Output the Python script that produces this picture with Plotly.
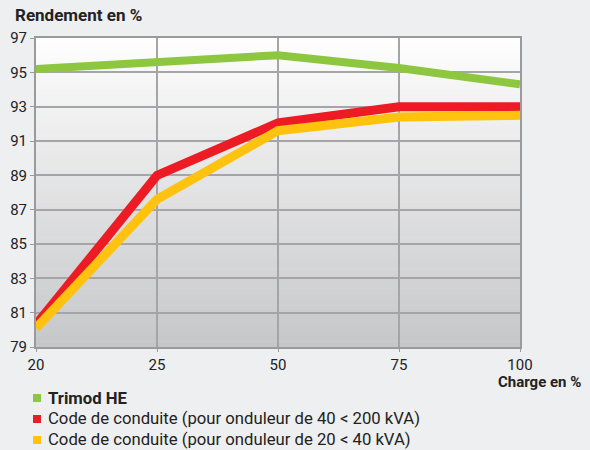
import plotly.graph_objects as go

charges = ["20", "25", "50", "75", "100"]
trimod = [95.2, 95.6, 96.0, 95.25, 94.3]
code_40_200 = [80.3, 89.0, 92.05, 93.0, 93.0]
code_20_40 = [80.1, 87.6, 91.6, 92.4, 92.5]
y_ticks = [79, 81, 83, 85, 87, 89, 91, 93, 95, 97]

names = ["<b>Trimod HE</b>",
         "Code de conduite (pour onduleur de 40 < 200 kVA)",
         "Code de conduite (pour onduleur de 20 < 40 kVA)"]
colors = ["#8dc63f", "#ed1c24", "#ffc20e"]
widths = [8, 9, 9]
series = [trimod, code_40_200, code_20_40]

FONT = "Roboto, 'DejaVu Sans', sans-serif"
W, H = 590, 450
L, R, T, B = 36, 70, 38, 103
PW, PH = W - L - R, H - T - B


def px_x(x):
    return (x - L) / PW


def px_y(y):
    return (H - B - y) / PH


fig = go.Figure()
for s, c, w in zip(series, colors, widths):
    fig.add_trace(go.Scatter(x=charges, y=s, mode="lines",
                             line=dict(color=c, width=w),
                             showlegend=False, hoverinfo="skip"))

# vertical gradient background for the plot area
shapes = []
N = 60
top = (0xFE, 0xFE, 0xFE)
bot = (0xC6, 0xC7, 0xC9)
for i in range(N):
    t = (i + 0.5) / N
    col = tuple(round(top[k] + (bot[k] - top[k]) * t) for k in range(3))
    shapes.append(dict(type="rect", xref="x domain", yref="y domain",
                       x0=0, x1=1, y0=1 - (i + 1) / N, y1=1 - i / N + 0.002,
                       fillcolor="rgb(%d,%d,%d)" % col, line=dict(width=0),
                       layer="below"))

annotations = [
    dict(text="<b>Rendement en %</b>", xref="paper", yref="paper",
         x=px_x(13), y=px_y(15), xanchor="left", yanchor="middle",
         showarrow=False, font=dict(size=17, color="#222222")),
    dict(text="<b>Charge en %</b>", xref="paper", yref="paper",
         x=px_x(583), y=px_y(382), xanchor="right", yanchor="middle",
         showarrow=False, font=dict(size=15, color="#222222")),
]

# custom legend
rows_y = [398, 419, 440]
for n, c, ry in zip(names, colors, rows_y):
    shapes.append(dict(type="rect", xref="paper", yref="paper",
                       x0=px_x(33), x1=px_x(41), y0=px_y(ry + 4), y1=px_y(ry - 4),
                       fillcolor=c, line=dict(width=0), layer="above"))
    annotations.append(dict(text=n, xref="paper", yref="paper",
                            x=px_x(46), y=px_y(ry), xanchor="left",
                            yanchor="middle", showarrow=False,
                            font=dict(size=16.7, color="#222222")))

fig.update_layout(
    width=W, height=H,
    margin=dict(l=L, r=R, t=T, b=B, autoexpand=False),
    paper_bgcolor="#eeeff0",
    plot_bgcolor="#ffffff",
    shapes=shapes,
    annotations=annotations,
    font=dict(family=FONT, size=15, color="#222222"),
    showlegend=False,
    xaxis=dict(type="category", range=[0, 4], showgrid=True,
               gridcolor="#a5a5a7", gridwidth=1.5,
               showline=True, linecolor="#9a9a9c", linewidth=2, mirror=True,
               ticks="outside", ticklen=3, tickcolor="#9a9a9c",
               tickfont=dict(size=15, color="#222222")),
    yaxis=dict(range=[79, 97], tickvals=y_ticks, showgrid=True,
               gridcolor="#a5a5a7", gridwidth=1.5,
               showline=True, linecolor="#9a9a9c", linewidth=2, mirror=True,
               ticks="outside", ticklen=4, tickcolor="#9a9a9c",
               tickfont=dict(size=15, color="#222222"), zeroline=False),
)

fig.write_html("out.html",
               config={"displayModeBar": False},
               post_script="document.body.style.margin='0';"
                           "document.body.style.background='#eeeff0';")
